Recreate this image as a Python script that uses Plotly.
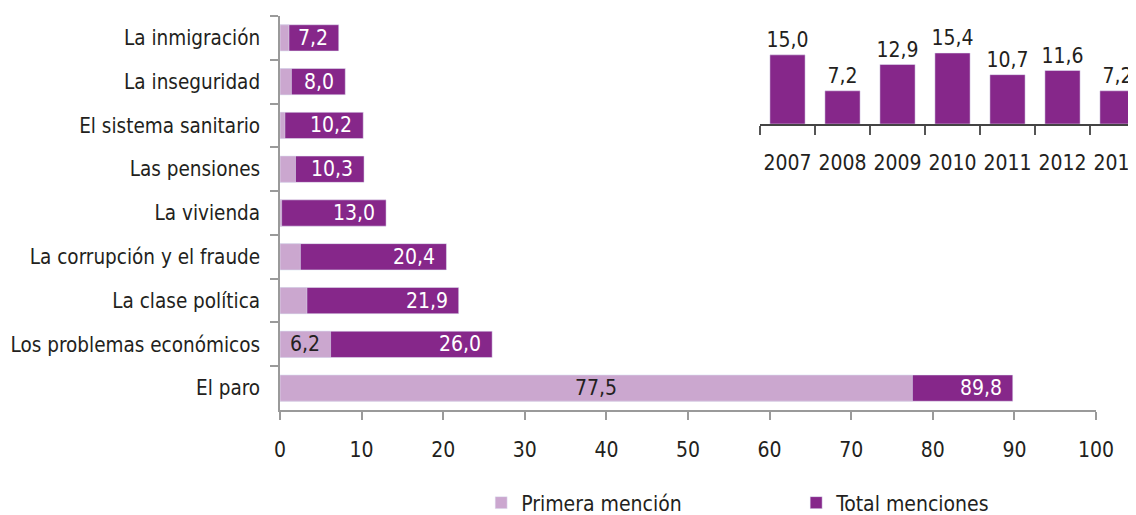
import plotly.graph_objects as go

# main chart data (top to bottom as in the picture)
categorias = ["La inmigración", "La inseguridad", "El sistema sanitario", "Las pensiones",
              "La vivienda", "La corrupción y el fraude", "La clase política",
              "Los problemas económicos", "El paro"]
primera = [1.1, 1.4, 0.6, 1.9, 0.2, 2.5, 3.3, 6.2, 77.5]
total = [7.2, 8.0, 10.2, 10.3, 13.0, 20.4, 21.9, 26.0, 89.8]

# inset: evolution of "La inmigración" total mentions
anios = ["2007", "2008", "2009", "2010", "2011", "2012", "2013"]
inmigracion = [15.0, 7.2, 12.9, 15.4, 10.7, 11.6, 7.2]

COLORS = {
    "dark": "#86278A",
    "light": "#CBA7CF",
    "text": "#231F20",
    "axis": "#9A9A9A",
}
FONT = "DejaVu Sans Condensed, Liberation Sans Narrow, Roboto Condensed, sans-serif"
FS = 21


def fnt(size=FS, color=COLORS["text"]):
    return dict(size=size, color=color, family=FONT)


def fmt(v):
    return f"{v:.1f}".replace(".", ",")


fig = go.Figure()

fig.add_trace(go.Bar(
    y=categorias, x=total, orientation="h",
    marker_color=COLORS["dark"], width=0.6,
    name="Total menciones", legendrank=2,
    xaxis="x", yaxis="y",
))
fig.add_trace(go.Bar(
    y=categorias, x=primera, orientation="h",
    marker_color=COLORS["light"], width=0.6,
    name="Primera mención", legendrank=1,
    xaxis="x", yaxis="y",
))

# inset bars
fig.add_trace(go.Bar(
    x=anios, y=inmigracion,
    marker_color=COLORS["dark"], width=0.64,
    text=[fmt(v) for v in inmigracion], textposition="outside",
    textfont=fnt(), constraintext="none",
    cliponaxis=False, showlegend=False,
    xaxis="x2", yaxis="y2",
))

annotations = []
for cat, p, t in zip(categorias, primera, total):
    annotations.append(dict(
        x=t, y=cat, xref="x", yref="y", text=fmt(t),
        xanchor="right", xshift=-9, showarrow=False,
        font=fnt(color="white"),
    ))
    if p > 5:
        annotations.append(dict(
            x=p / 2, y=cat, xref="x", yref="y", text=fmt(p),
            xanchor="center", showarrow=False,
            font=fnt(),
        ))

# the page body keeps an 8px margin, so the figure is 8px smaller and shifted
fig.update_layout(
    width=1128, height=507,
    barmode="overlay",
    plot_bgcolor="white", paper_bgcolor="white",
    font=fnt(),
    margin=dict(l=272, r=0, t=8, b=105, autoexpand=False),
    annotations=annotations,
    legend=dict(
        orientation="h", x=0.235, xanchor="left", y=-0.236, yanchor="middle",
        entrywidth=270, font=fnt(),
        bgcolor="rgba(0,0,0,0)",
    ),
    xaxis=dict(
        domain=[0, 816 / 856], range=[0, 100], dtick=10, automargin=False,
        showgrid=False, zeroline=False,
        showline=True, linecolor=COLORS["axis"], linewidth=1.5,
        ticks="outside", ticklen=8, tickcolor=COLORS["axis"], tickwidth=1.5,
        ticklabelstandoff=12, tickfont=fnt(),
    ),
    yaxis=dict(
        domain=[0, 1], autorange="reversed", automargin=False,
        showgrid=False, zeroline=False,
        showline=True, linecolor=COLORS["axis"], linewidth=1.5,
        ticks="outside", ticklen=8, tickcolor=COLORS["axis"], tickwidth=1.5,
        tickson="boundaries", ticklabelstandoff=14,
        tickfont=fnt(20.5),
    ),
    xaxis2=dict(
        domain=[480 / 856, 1], anchor="y2", type="category",
        range=[-0.5, -0.5 + 376 / 55], tickangle=0, automargin=False,
        showgrid=False, zeroline=False,
        showline=True, linecolor="#444", linewidth=1.5,
        ticks="outside", ticklen=9, tickcolor="#555", tickwidth=1.5,
        tickson="boundaries", ticklabelstandoff=19,
        tickfont=fnt(),
    ),
    yaxis2=dict(
        domain=[286 / 394, 1], anchor="x2", range=[0, 108 / 4.61],
        visible=False,
    ),
)

fig.write_html("out.html")
